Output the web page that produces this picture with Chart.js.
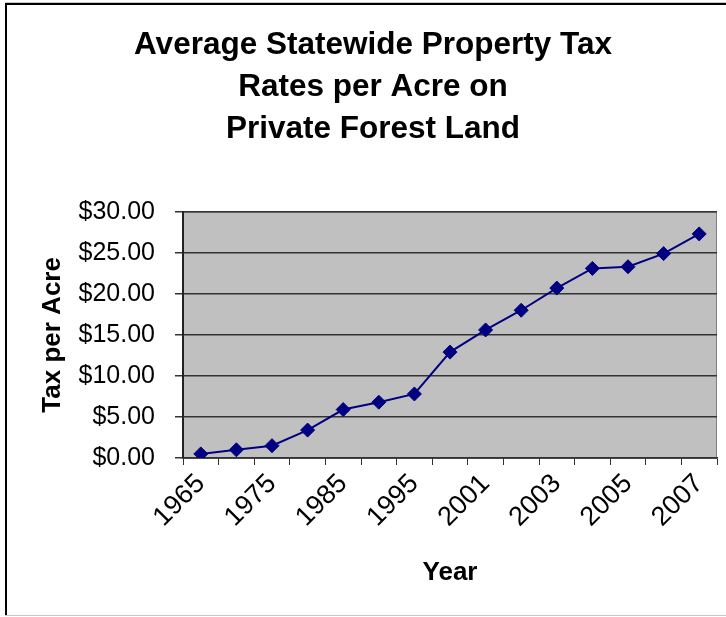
<!DOCTYPE html>
<html>
<head>
<meta charset="utf-8">
<style>
  html, body { margin: 0; padding: 0; background: #fff; }
  #wrap { width: 726px; height: 617px; }
</style>
<script src="https://cdn.jsdelivr.net/npm/chart.js@4.4.1/dist/chart.umd.min.js"></script>
</head>
<body>
<div id="wrap"><canvas id="taxChart" width="726" height="617"></canvas></div>
<script>
// Tax per acre by year
const years = ['1965', '1970', '1975', '1980', '1985', '1990', '1995', '2000', '2001', '2002', '2003', '2004', '2005', '2006', '2007'];
const taxPerAcre = [0.5, 1.0, 1.5, 3.4, 5.9, 6.8, 7.8, 12.9, 15.6, 18.0, 20.7, 23.1, 23.3, 24.9, 27.3];
const yTicks = { min: 0, max: 30, step: 5 };
const titleLines = ['Average Statewide Property Tax', 'Rates per Acre on', 'Private Forest Land'];

const FONT = "'Liberation Sans', Arial, sans-serif";

// frame around the chart + grey plot background
const framePlugin = {
  id: 'frame',
  beforeDraw(chart) {
    const ctx = chart.ctx;
    const { left, top, right, bottom } = chart.chartArea;
    ctx.save();
    ctx.fillStyle = '#fff';
    ctx.fillRect(0, 0, chart.width, chart.height);
    // outer frame
    ctx.fillStyle = '#c8c8c8';
    ctx.fillRect(5, 2, chart.width - 5, 1);
    ctx.fillRect(5, 615, chart.width - 5, 1);
    ctx.fillStyle = '#000';
    ctx.fillRect(5, 3, chart.width - 5, 2);
    ctx.fillRect(5, 3, 2, 612);
    // plot area
    ctx.fillStyle = '#c0c0c0';
    ctx.fillRect(left, top, right - left, bottom - top);
    ctx.strokeStyle = '#808080';
    ctx.lineWidth = 1;
    ctx.strokeRect(left + 0.5, top + 0.5, right - left - 1, bottom - top);
    ctx.restore();
  }
};

const ctx = document.getElementById('taxChart').getContext('2d');

new Chart(ctx, {
  type: 'line',
  data: {
    labels: years,
    datasets: [{
      label: 'Tax per Acre',
      data: taxPerAcre,
      borderColor: '#000080',
      backgroundColor: '#000080',
      borderWidth: 2,
      pointStyle: 'rectRot',
      pointRadius: 7,
      pointHoverRadius: 7,
      pointBorderWidth: 1,
      tension: 0,
      fill: false
    }]
  },
  options: {
    responsive: false,
    animation: false,
    devicePixelRatio: 1,
    layout: { padding: { left: 29, right: 9, top: 5, bottom: 20 } },
    plugins: {
      legend: { display: false },
      tooltip: { enabled: false },
      title: {
        display: true,
        text: titleLines,
        color: '#000',
        font: { family: FONT, size: 31.5, weight: 'bold', lineHeight: 1.32 },
        padding: { top: 20, bottom: 62 }
      }
    },
    scales: {
      x: {
        offset: true,
        afterFit(scale) { scale.height = 139; },
        grid: {
          offset: true,
          drawOnChartArea: false,
          drawTicks: true,
          tickLength: 7,
          color: '#333'
        },
        border: { display: true, color: '#333', width: 1.5 },
        ticks: {
          autoSkip: false,
          minRotation: 45,
          maxRotation: 45,
          padding: 3,
          color: '#000',
          font: { family: FONT, size: 27 },
          callback(value, index) {
            return index % 2 === 0 ? years[index] : '';
          }
        },
        title: {
          display: true,
          text: 'Year',
          color: '#000',
          font: { family: FONT, size: 26, weight: 'bold' },
          padding: { top: 0, bottom: 9 }
        }
      },
      y: {
        min: yTicks.min,
        max: yTicks.max,
        afterFit(scale) { scale.width = 154; },
        grid: {
          color: '#333',
          lineWidth: 1.5,
          drawTicks: true,
          tickLength: 8
        },
        border: { display: true, color: '#222', width: 2 },
        ticks: {
          stepSize: yTicks.step,
          padding: 20,
          color: '#000',
          font: { family: FONT, size: 25 },
          callback(value) { return '$' + value.toFixed(2); }
        },
        title: {
          display: true,
          text: 'Tax per Acre',
          color: '#000',
          font: { family: FONT, size: 26, weight: 'bold' },
          padding: { top: 8, bottom: 0 }
        }
      }
    }
  },
  plugins: [framePlugin]
});
</script>
</body>
</html>
